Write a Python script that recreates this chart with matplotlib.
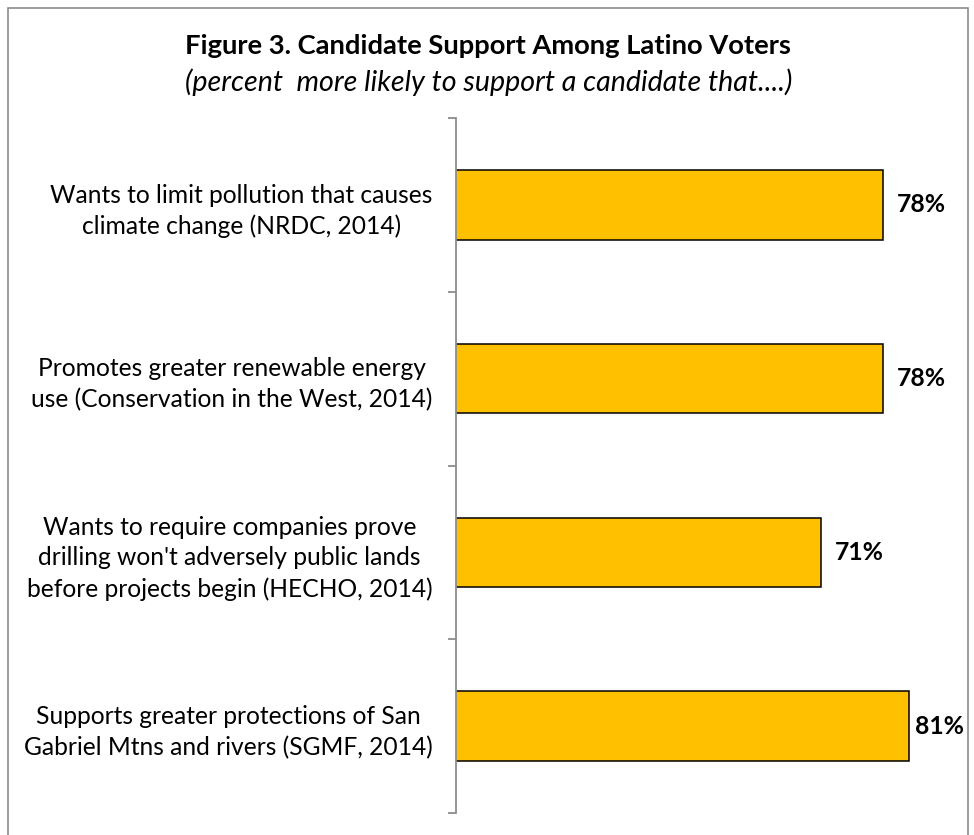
import matplotlib
matplotlib.use("Agg")
import matplotlib.pyplot as plt
from matplotlib.patches import Rectangle

plt.rcParams["font.family"] = ["Lato", "DejaVu Sans"]

# data
labels = [
    "Wants to limit pollution that causes\nclimate change (NRDC, 2014)",
    "Promotes greater renewable energy\nuse (Conservation in the West, 2014)",
    "Wants to require companies prove\ndrilling won't adversely public lands\nbefore projects begin (HECHO, 2014)",
    "Supports greater protections of San\nGabriel Mtns and rivers (SGMF, 2014)",
]
values = [78, 78, 71, 81]

fig = plt.figure(figsize=(9.74, 8.35), dpi=100)
W, H = 974, 835

# outer chart border (grey frame, bottom cut off)
fig.patches.append(Rectangle((8 / W, -0.05), 960 / W, 1.05 - 8 / H,
                             transform=fig.transFigure, fill=False,
                             edgecolor="#8c8c8c", linewidth=1.2))

ax = fig.add_axes([456 / W, 1 - 813 / H, (945 - 456) / W, (813 - 118) / H])

pos = list(range(len(values)))
ax.barh(pos, values, height=0.4, left=0, color="#FFC000",
        edgecolor="black", linewidth=1.1)

ax.set_xlim(30, 85)
ax.set_ylim(3.5, -0.5)

# the longest bar's label sits closer so it stays inside the frame
for p, v in zip(pos, values):
    off = 4 if v == max(values) else 10
    ax.annotate(f"{v}%", (v, p), xytext=(off, 0), textcoords="offset points",
                ha="left", va="center", fontsize=17.8, fontweight="bold")

for s in ["top", "right", "bottom"]:
    ax.spines[s].set_visible(False)
ax.spines["left"].set_color("#8c8c8c")
ax.spines["left"].set_linewidth(1.3)
ax.set_xticks([])

ax.set_yticks([-0.5, 0.5, 1.5, 2.5, 3.5])
ax.set_yticklabels([])
ax.tick_params(axis="y", which="major", length=6, width=1.3, color="#8c8c8c")
ax.set_yticks(pos, minor=True)
ax.set_yticklabels(labels, minor=True, ha="right", multialignment="center",
                   fontsize=17.7, linespacing=1.4)
ax.tick_params(axis="y", which="minor", length=0, pad=17)

fig.text(488 / W, 1 - 46 / H, "Figure 3. Candidate Support Among Latino Voters",
         ha="center", va="center", fontsize=19.7, fontweight="bold")
fig.text(489 / W, 1 - 82 / H, "(percent  more likely to support a candidate that....)",
         ha="center", va="center", fontsize=20.6, fontstyle="italic")

fig.savefig("out.png", dpi=100)
